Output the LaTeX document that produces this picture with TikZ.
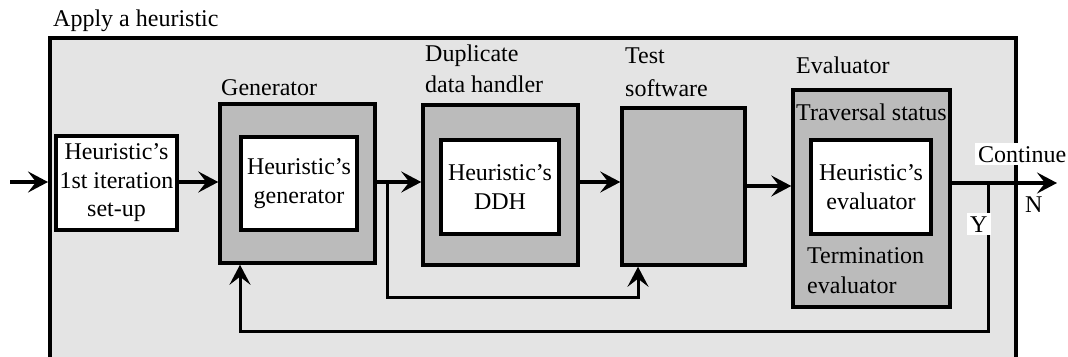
\documentclass[tikz,border=0pt]{standalone}
\usepackage{fontspec}
\setmainfont{Liberation Serif}
\usetikzlibrary{arrows.meta}
\definecolor{lightbg}{HTML}{E4E4E4}
\definecolor{boxgray}{HTML}{BBBBBB}
\tikzset{
  txt/.style={font=\fontsize{24}{28.5}\selectfont, inner sep=0pt, align=center},
  lbl/.style={font=\fontsize{24}{28.5}\selectfont, inner sep=0pt, anchor=base west},
  whitebox/.style={draw=black, line width=3.5pt, fill=white, inner sep=0pt, txt},
  graybox/.style={draw=black, line width=3.5pt, fill=boxgray, inner sep=0pt},
  flow/.style={line width=3.5pt, -{Stealth[length=20pt,width=21pt,inset=8pt]}},
  backarrow/.style={line width=3pt, -{Stealth[length=20pt,width=21pt,inset=8pt]}}
}
\begin{document}
\begin{tikzpicture}[x=1pt,y=-1pt]
\useasboundingbox (0,0) rectangle (1068,356);
\fill[white] (0,0) rectangle (1068,356);
% outer region
\node[draw=black, line width=3.5pt, fill=lightbg, minimum width=966pt, minimum height=334pt, inner sep=0pt, anchor=north west] (outer) at (48,36) {};
\node[lbl] (applylbl) at (53,27) {Apply a heuristic};
% setup
\node[whitebox, minimum width=121pt, minimum height=94pt] (setup) at (116.5,183) {Heuristic’s\\1st iteration\\set-up};
% generator
\node[graybox, minimum width=155pt, minimum height=159pt] (gen) at (297.5,183.5) {};
\node[whitebox, minimum width=116pt, minimum height=93pt] (genin) at (299,183.5) {Heuristic’s\\generator};
\node[lbl] (genlbl) at (221,95) {Generator};
% DDH
\node[graybox, minimum width=155pt, minimum height=160pt] (ddh) at (500.5,185) {};
\node[whitebox, minimum width=118pt, minimum height=94pt] (ddhin) at (500,187) {Heuristic’s\\DDH};
\node[lbl] (ddhlbl1) at (425,61) {Duplicate};
\node[lbl] (ddhlbl2) at (425,92) {data handler};
% test
\node[graybox, minimum width=123pt, minimum height=157pt] (test) at (683.5,186.5) {};
\node[lbl] (testlbl1) at (625,63) {Test};
\node[lbl] (testlbl2) at (625,96) {software};
% evaluator
\node[graybox, minimum width=157pt, minimum height=217pt] (eval) at (871.5,198.5) {};
\node[whitebox, minimum width=120pt, minimum height=94pt] (evalin) at (871,187) {Heuristic’s\\evaluator};
\node[lbl] (evallbl) at (796,73) {Evaluator};
\node[lbl] (travlbl) at (796,120) {Traversal status};
\node[lbl] (term1) at (807,263) {Termination};
\node[lbl] (term2) at (807,293) {evaluator};
% coordinates
\coordinate (in) at (10,182);
\coordinate (inend) at (48,182);
\coordinate (split1) at (387,182);
\coordinate (c1) at (387,297);
\coordinate (c2) at (638,297);
\coordinate (out) at (1057,183);
\coordinate (split2) at (988,183);
\coordinate (c3) at (988,331);
\coordinate (c4) at (240,331);
% connectors
\draw[flow] (in) -- (inend);
\draw[flow] (setup.east |- 0,182) -- (gen.west |- 0,182);
\draw[flow] (gen.east |- 0,182) -- (ddh.west |- 0,182);
\draw[flow] (ddh.east |- 0,182) -- (test.west |- 0,182);
\draw[flow] (test.east |- 0,186) -- (eval.west |- 0,186);
\draw[backarrow] (split1) -- (c1) -- (c2) -- (test.south -| c2);
\draw[flow] (eval.east |- 0,183) -- (out);
\draw[backarrow] (split2) -- (c3) -- (c4) -- (gen.south -| c4);
% labels on output
\node[lbl, fill=white, inner sep=3pt] (cont) at (975,162) {Continue};
\node[lbl] (nlbl) at (1025,212) {N};
\node[lbl, fill=white, inner sep=3pt] (ylbl) at (967,232) {Y};
\end{tikzpicture}
\end{document}
